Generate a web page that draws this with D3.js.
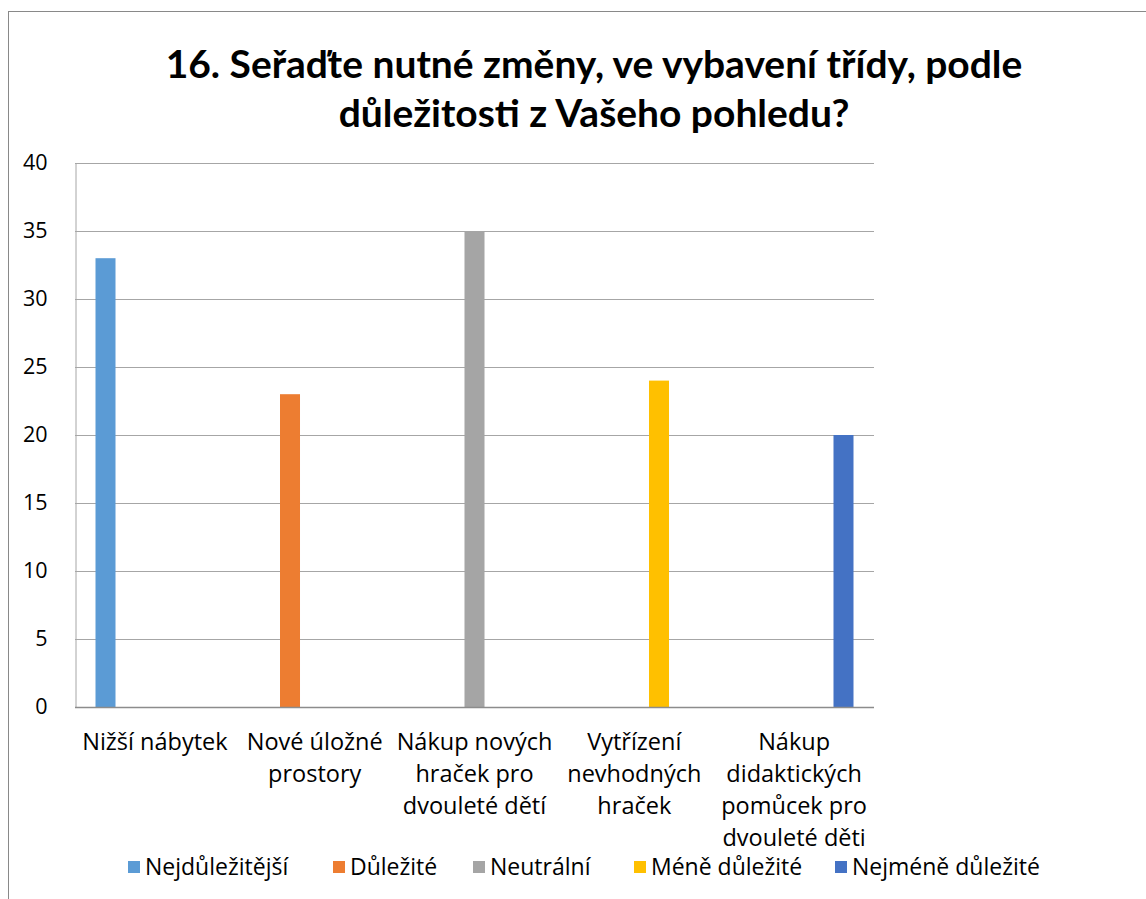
<!DOCTYPE html>
<html>
<head>
<meta charset="utf-8">
<script src="https://cdn.jsdelivr.net/npm/d3@7"></script>
<style>
  body { margin: 0; background: #fff; }
  text { font-family: "Open Sans", Lato, sans-serif; fill: #000; }
</style>
</head>
<body>
<script>
// chart data
var categories = [
  "Nižší nábytek",
  "Nové úložné\nprostory",
  "Nákup nových\nhraček pro\ndvouleté dětí",
  "Vytřízení\nnevhodných\nhraček",
  "Nákup\ndidaktických\npomůcek pro\ndvouleté děti"
];
var seriesNames = ["Nejdůležitější", "Důležité", "Neutrální", "Méně důležité", "Nejméně důležité"];
// each series only has a value for "its" category
var seriesValues = [
  [33, 0, 0, 0, 0],
  [0, 23, 0, 0, 0],
  [0, 0, 35, 0, 0],
  [0, 0, 0, 24, 0],
  [0, 0, 0, 0, 20]
];
var yTicks = [0, 5, 10, 15, 20, 25, 30, 35, 40];
var colors = ["#5B9BD5", "#ED7D31", "#A5A5A5", "#FFC000", "#4472C4"];

var W = 1146, H = 899;
var svg = d3.select("body").append("svg")
  .attr("width", W)
  .attr("height", H);

// chart frame (cut off at right and bottom like the screenshot)
svg.append("rect")
  .attr("x", 8.5).attr("y", 11.5)
  .attr("width", W + 20).attr("height", H + 20)
  .style("fill", "#fff")
  .style("stroke", "#898989");

var plotLeft = 75, plotRight = 874, plotTop = 163, plotBottom = 707;

var x = d3.scaleBand()
  .domain(d3.range(categories.length))
  .range([plotLeft, plotRight]);

var xs = d3.scaleBand()
  .domain(d3.range(seriesNames.length))
  .range([0, x.bandwidth()])
  .paddingInner(0.19)
  .paddingOuter(0.83);

var y = d3.scaleLinear()
  .domain([0, 40])
  .range([plotBottom, plotTop]);

// gridlines
svg.append("g").selectAll("line")
  .data(yTicks.slice(1))
  .enter().append("line")
  .attr("x1", plotLeft).attr("x2", plotRight)
  .attr("y1", function(d){ return Math.round(y(d)) + 0.5; })
  .attr("y2", function(d){ return Math.round(y(d)) + 0.5; })
  .style("stroke", "#a6a6a6")
  .style("stroke-width", 1);

// y axis
var yAxis = d3.axisLeft(y).tickValues(yTicks).tickSize(0).tickPadding(28);
var gy = svg.append("g")
  .attr("transform", "translate(" + (plotLeft + 0.5) + ",0)")
  .call(yAxis);
gy.select(".domain").style("stroke", "#a6a6a6");
gy.selectAll("text")
  .style("font-family", "'Open Sans', sans-serif")
  .style("font-size", "21.5px")
  .attr("fill", "#000");

// bars
var series = svg.selectAll(".series")
  .data(seriesValues)
  .enter().append("g")
  .attr("class", "series")
  .style("fill", function(d, i){ return colors[i]; });

series.each(function(vals, si){
  d3.select(this).selectAll("rect")
    .data(vals)
    .enter().append("rect")
    .attr("x", function(d, ci){ return x(ci) + xs(si); })
    .attr("width", xs.bandwidth())
    .attr("y", function(d){ return y(d); })
    .attr("height", function(d){ return plotBottom - y(d); });
});

// bottom axis line
svg.append("line")
  .attr("x1", plotLeft).attr("x2", plotRight)
  .attr("y1", plotBottom + 0.5).attr("y2", plotBottom + 0.5)
  .style("stroke", "#8c8c8c")
  .style("stroke-width", 1.5);

// category labels
var catLabels = svg.selectAll(".cat")
  .data(categories)
  .enter().append("text")
  .attr("class", "cat")
  .attr("text-anchor", "middle")
  .style("font-size", "23.5px");

catLabels.each(function(d, i){
  var t = d3.select(this);
  d.split("\n").forEach(function(line, li){
    t.append("tspan")
      .attr("x", x(i) + x.bandwidth() / 2)
      .attr("y", 750 + li * 32)
      .text(line);
  });
});

// title
var titleLines = ["16. Seřaďte nutné změny, ve vybavení třídy, podle", "důležitosti z Vašeho pohledu?"];
var title = svg.append("text")
  .attr("text-anchor", "middle")
  .style("font-family", "Lato, sans-serif")
  .style("font-weight", "bold")
  .style("font-size", "36px");
titleLines.forEach(function(line, i){
  title.append("tspan")
    .attr("x", 594)
    .attr("y", 78 + i * 49)
    .text(line);
});
// scale title to the width it has in the picture
var firstLen = title.select("tspan").node().getComputedTextLength();
title.style("font-size", (36 * 857 / firstLen) + "px");

// legend
var legendX = [128, 333, 473, 634, 835];
var legend = svg.selectAll(".legend")
  .data(seriesNames)
  .enter().append("g")
  .attr("class", "legend")
  .attr("transform", function(d, i){ return "translate(" + legendX[i] + ",861)"; });

legend.append("rect")
  .attr("width", 12).attr("height", 12)
  .style("fill", function(d, i){ return colors[i]; });

legend.append("text")
  .attr("x", 17)
  .attr("y", 14)
  .style("font-size", "23px")
  .text(function(d){ return d; });
</script>
</body>
</html>
